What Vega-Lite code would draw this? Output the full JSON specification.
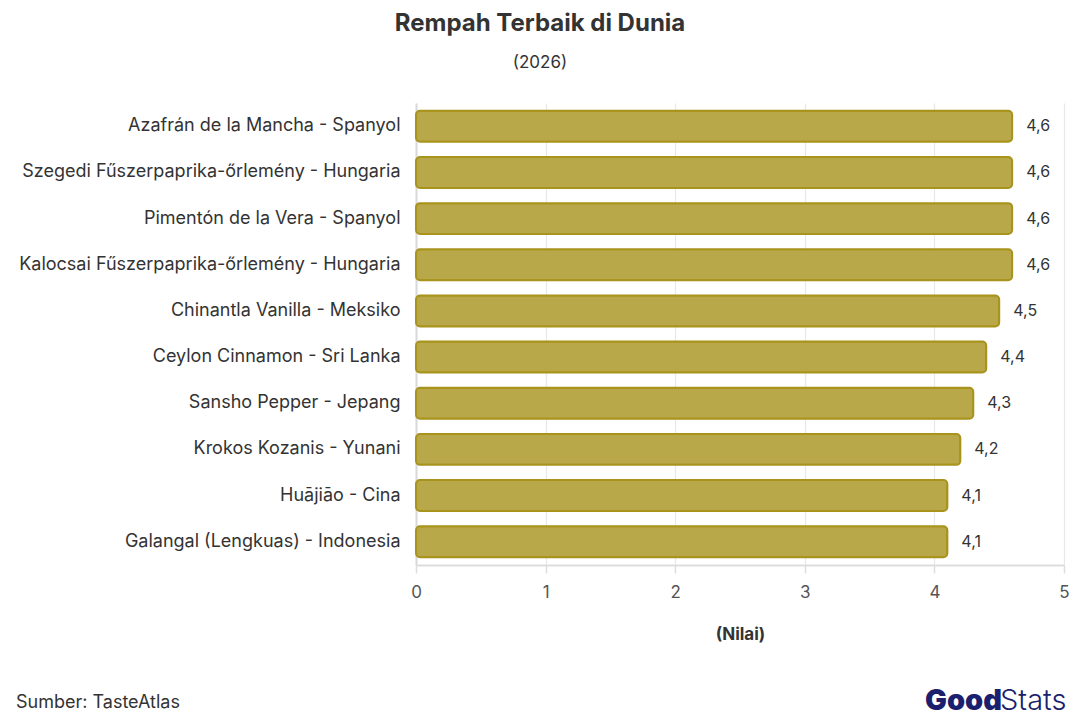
{
  "$schema": "https://vega.github.io/schema/vega-lite/v6.json",
  "autosize": {"type": "none"},
  "width": 648,
  "height": 462,
  "padding": {"left": 416, "top": 103, "right": 16, "bottom": 155},
  "background": "white",
  "config": {
    "locale": {"number": {"decimal": ",", "thousands": ".", "grouping": [3], "currency": ["", ""]}},
    "font": "Inter",
    "view": {"stroke": null}
  },
  "title": {
    "text": "Rempah Terbaik di Dunia",
    "subtitle": "(2026)",
    "anchor": "middle",
    "dx": -200,
    "fontSize": 24,
    "fontWeight": "bold",
    "color": "#333333",
    "subtitleFontSize": 17,
    "subtitleColor": "#333333",
    "subtitlePadding": 19,
    "offset": 32
  },
  "layer": [
    {
      "data": {"values": [
        {"rempah": "Azafrán de la Mancha - Spanyol", "nilai": 4.6},
        {"rempah": "Szegedi Fűszerpaprika-őrlemény - Hungaria", "nilai": 4.6},
        {"rempah": "Pimentón de la Vera - Spanyol", "nilai": 4.6},
        {"rempah": "Kalocsai Fűszerpaprika-őrlemény - Hungaria", "nilai": 4.6},
        {"rempah": "Chinantla Vanilla - Meksiko", "nilai": 4.5},
        {"rempah": "Ceylon Cinnamon - Sri Lanka", "nilai": 4.4},
        {"rempah": "Sansho Pepper - Jepang", "nilai": 4.3},
        {"rempah": "Krokos Kozanis - Yunani", "nilai": 4.2},
        {"rempah": "Huājiāo - Cina", "nilai": 4.1},
        {"rempah": "Galangal (Lengkuas) - Indonesia", "nilai": 4.1}
      ]},
      "encoding": {
        "y": {
          "field": "rempah", "type": "nominal", "sort": null,
          "scale": {"paddingInner": 0.33, "paddingOuter": 0.17},
          "axis": {
            "title": null, "ticks": false, "labelFontSize": 18, "labelColor": "#333333",
            "labelPadding": 16, "domainColor": "#d9d9d9", "domainWidth": 2, "labelLimit": 420
          }
        },
        "x": {
          "field": "nilai", "type": "quantitative",
          "scale": {"domain": [0, 5]},
          "axis": {
            "title": "(Nilai)", "titleFontSize": 17, "titleFontWeight": "bold", "titleColor": "#333333",
            "titlePadding": 26, "tickCount": 5, "format": "d", "labelFlush": false,
            "labelFontSize": 17, "labelColor": "#555555", "labelPadding": 11,
            "domainColor": "#dddddd", "domainWidth": 2, "tickColor": "#dddddd", "tickSize": 8, "tickWidth": 1.5,
            "gridColor": "#e8e8e8", "gridWidth": 1.2
          }
        }
      },
      "layer": [
        {
          "mark": {"type": "bar", "fill": "#b8a84a", "stroke": "#a8931c", "strokeWidth": 2, "cornerRadius": 4}
        },
        {
          "mark": {"type": "text", "align": "left", "baseline": "middle", "dx": 14, "fontSize": 16, "color": "#333333"},
          "encoding": {"text": {"field": "nilai", "type": "quantitative", "format": ".1f"}}
        }
      ]
    },
    {
      "data": {"values": [{"t": "Sumber: TasteAtlas"}]},
      "mark": {"type": "text", "align": "left", "baseline": "middle", "fontSize": 18, "color": "#333333"},
      "encoding": {"text": {"field": "t"}, "x": {"value": -400}, "y": {"value": 600}}
    },
    {
      "data": {"values": [{"t": "Good"}]},
      "mark": {"type": "text", "align": "left", "baseline": "middle", "fontSize": 29, "fontWeight": 900, "color": "#1b1f6e", "font": "Inter", "letterSpacing": -1},
      "encoding": {"text": {"field": "t"}, "x": {"value": 509}, "y": {"value": 598}}
    },
    {
      "data": {"values": [{"t": "Stats"}]},
      "mark": {"type": "text", "align": "left", "baseline": "middle", "fontSize": 29, "fontWeight": 300, "color": "#1b1f6e", "font": "Inter"},
      "encoding": {"text": {"field": "t"}, "x": {"value": 584}, "y": {"value": 598}}
    }
  ]
}
